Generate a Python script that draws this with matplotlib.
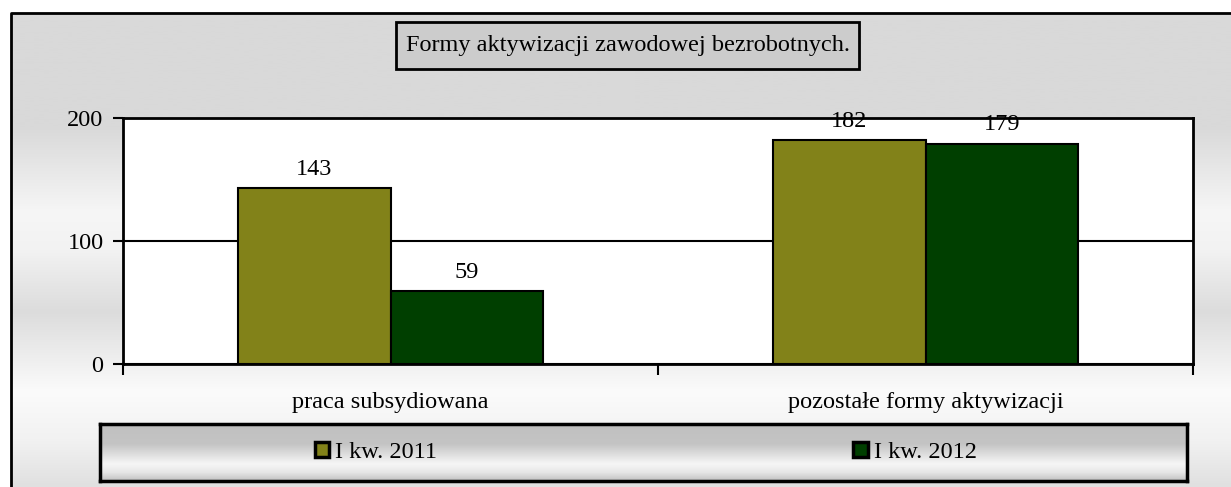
import numpy as np
import matplotlib.pyplot as plt
from matplotlib.patches import Rectangle
from matplotlib.colors import LinearSegmentedColormap

kategorie = ["praca subsydiowana", "pozostałe formy aktywizacji"]
serie = ["I kw. 2011", "I kw. 2012"]
wartosci_2011 = [143, 182]
wartosci_2012 = [59, 179]
tytul = "Formy aktywizacji zawodowej bezrobotnych."
y_ticks = [0, 100, 200]

kolory = ["#828219", "#003f00"]
W, H = 1231, 487
fs = 17.5

plt.rcParams['font.family'] = ['Liberation Serif', 'DejaVu Serif']
plt.rcParams['font.size'] = fs

fig = plt.figure(figsize=(W / 100, H / 100), dpi=100)

# tlo - gradient pionowy w ramce (tylko lewa i gorna krawedz widoczna)
bg = fig.add_axes([0, 0, 1, 1])
bg.set_xlim(0, W)
bg.set_ylim(H, 0)
bg.axis('off')
stopy = [(0.0, '#d9d9d9'), (0.24, '#d9d9d9'), (0.42, '#f6f6f6'), (0.5, '#f2f2f2'),
         (0.63, '#dcdcdc'), (0.8, '#fbfbfb'), (0.9, '#f2f2f2'), (1.0, '#e0e0e0')]
cm_bg = LinearSegmentedColormap.from_list('bg', stopy)
grad = np.linspace(0, 1, 256).reshape(-1, 1)
bg.imshow(grad, cmap=cm_bg, aspect='auto', extent=(11, W, H, 13), zorder=0)
bg.plot([11, 11, W], [H, 13, 13], color='black', lw=2, zorder=1)

# tytul w ramce
bg.add_patch(Rectangle((396, 22), 463, 47, fc='#cccccc', ec='black', lw=2, zorder=2))
bg.text(627.5, 46, tytul, ha='center', va='center', fontsize=fs, zorder=3)

# wykres
ax = fig.add_axes([123 / W, (H - 364) / H, (1193 - 123) / W, (364 - 118) / H])
ax.set_facecolor('white')
x = np.arange(len(kategorie))
szer = 0.285
b1 = ax.bar(x - szer / 2, wartosci_2011, szer, color=kolory[0], edgecolor='black', lw=1.5,
            label=serie[0], zorder=3)
b2 = ax.bar(x + szer / 2, wartosci_2012, szer, color=kolory[1], edgecolor='black', lw=1.5,
            label=serie[1], zorder=3)
ax.bar_label(b1, padding=6, fontsize=fs)
ax.bar_label(b2, padding=6, fontsize=fs)

ax.set_xlim(-0.5, len(kategorie) - 0.5)
ax.set_ylim(0, 200)
ax.set_yticks(y_ticks)
ax.yaxis.grid(True, color='black', lw=1.5, zorder=1)
ax.set_axisbelow(True)
ax.tick_params(axis='y', direction='out', length=7, width=1.5, pad=7, labelsize=fs)

ax.set_xticks(np.arange(len(kategorie) + 1) - 0.5)
ax.set_xticklabels([])
ax.tick_params(axis='x', which='major', direction='out', length=8, width=1.5)
ax.set_xticks(x, minor=True)
ax.set_xticklabels(kategorie, minor=True)
ax.tick_params(axis='x', which='minor', length=0, pad=20, labelsize=fs)
for s in ax.spines.values():
    s.set_linewidth(2)
    s.set_color('black')
for t in ax.texts:
    t.set_clip_on(False)

# legenda z gradientem
lax = fig.add_axes([100 / W, (H - 481) / H, (1187 - 100) / W, (481 - 424) / H])
stopy_leg = [(0.0, '#c0c0c0'), (0.35, '#c4c4c4'), (0.7, '#f6f6f6'), (0.85, '#e6e6e6'),
             (1.0, '#c0c0c0')]
cm_leg = LinearSegmentedColormap.from_list('leg', stopy_leg)
lax.imshow(grad, cmap=cm_leg, aspect='auto', extent=(0, 1, 0, 1))
lax.set_xlim(0, 1)
lax.set_ylim(0, 1)
lax.set_xticks([])
lax.set_yticks([])
for s in lax.spines.values():
    s.set_linewidth(2.5)
leg = lax.legend(handles=[b1, b2], labels=serie, ncol=2, loc='center', frameon=False,
                 handlelength=0.6, handleheight=0.6, handletextpad=0.25, columnspacing=17.1,
                 fontsize=fs, bbox_to_anchor=(0.502, 0.5))
for h in leg.legend_handles:
    h.set_linewidth(2.5)

fig.savefig('out.png', dpi=100)
